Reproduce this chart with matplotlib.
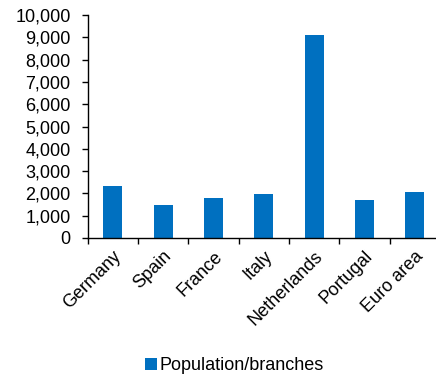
import matplotlib
matplotlib.use("Agg")
import matplotlib.pyplot as plt
from matplotlib.patches import Patch
from matplotlib.ticker import FuncFormatter, FixedLocator

countries = ["Germany", "Spain", "France", "Italy", "Netherlands", "Portugal", "Euro area"]
population_per_branch = [2340, 1470, 1780, 1990, 9120, 1720, 2080]
series_name = "Population/branches"
y_ticks = list(range(0, 10001, 1000))

plt.rcParams["font.family"] = ["Liberation Sans", "DejaVu Sans"]
bar_color = "#0070C0"
font_size = 13

fig = plt.figure(figsize=(4.36, 3.8), dpi=100)
ax = fig.add_axes([0.201, 0.3737, 0.799, 0.5868])

x = range(len(countries))
ax.bar(x, population_per_branch, width=0.38, color=bar_color)

ax.set_ylim(0, 10000)
ax.set_xlim(-0.5, 6.42)
ax.set_yticks(y_ticks)
ax.yaxis.set_major_formatter(FuncFormatter(lambda v, p: f"{int(v):,}"))

ax.set_xticks(list(x))
ax.set_xticklabels(countries, rotation=45, ha="right", rotation_mode="anchor")
ax.xaxis.set_minor_locator(FixedLocator([i - 0.5 for i in range(len(countries) + 1)]))
ax.tick_params(axis="x", which="major", length=0, pad=7)
ax.tick_params(axis="x", which="minor", length=4.3, width=1, direction="out")
ax.tick_params(axis="y", length=4.3, width=1, direction="out", pad=8)
ax.tick_params(labelsize=font_size, colors="black")

for side in ("top", "right"):
    ax.spines[side].set_visible(False)
for side in ("left", "bottom"):
    ax.spines[side].set_linewidth(1)
    ax.spines[side].set_color("black")

handle = Patch(facecolor=bar_color, edgecolor="none", label=series_name)
fig.legend(handles=[handle], loc="center", bbox_to_anchor=(0.537, 0.037),
           frameon=False, fontsize=font_size, handlelength=0.65, handleheight=0.65,
           handletextpad=0.15)

fig.savefig("out.png", dpi=100)
